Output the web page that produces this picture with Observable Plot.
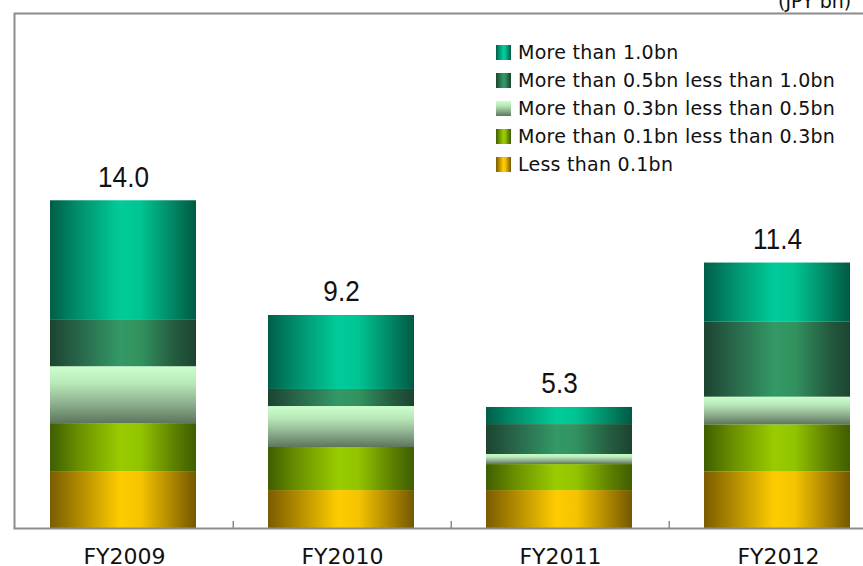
<!DOCTYPE html>
<html>
<head>
<meta charset="utf-8">
<script src="https://cdn.jsdelivr.net/npm/d3@7"></script>
<script src="https://cdn.jsdelivr.net/npm/@observablehq/plot@0.6"></script>
<style>
  html, body { margin: 0; padding: 0; background: #fff; overflow: hidden; }
  #wrap { position: relative; width: 863px; height: 566px; overflow: hidden; }
  #chart svg { max-width: none !important; }
  #unit { position: absolute; left: 778px; top: -8px; font: 19px "DejaVu Sans", sans-serif; line-height: 19px; color: #111; white-space: nowrap; }
  #legend { position: absolute; left: 496px; top: 38px; font: 19px "DejaVu Sans", sans-serif; color: #111; letter-spacing: 0.26px; }
  #legend .row { display: flex; align-items: center; height: 28px; white-space: nowrap; }
  #legend .sw { width: 15px; height: 15px; margin-right: 7px; flex: none; }
</style>
</head>
<body>
<div id="wrap">
  <div id="chart"></div>
  <div id="unit"></div>
  <div id="legend"></div>
</div>
<script>
// ---- data ----
const categories = ["FY2009", "FY2010", "FY2011", "FY2012"];
const seriesNames = [
  "Less than 0.1bn",
  "More than 0.1bn less than 0.3bn",
  "More than 0.3bn less than 0.5bn",
  "More than 0.5bn less than 1.0bn",
  "More than 1.0bn"
];
const lessThan01 = [2.43, 1.62, 1.62, 2.41];
const from01to03 = [2.05, 1.84, 1.11, 2.02];
const from03to05 = [2.43, 1.75, 0.43, 1.18];
const from05to10 = [2.01, 0.73, 1.28, 3.22];
const moreThan10 = [5.08, 3.16, 0.73, 2.51];
const totalLabels = ["14.0", "9.2", "5.3", "11.4"];
const unitLabel = "(JPY bn)";

// ---- styles (gradients) ----
const gradIds = ["gLt01", "g01to03", "g03to05", "g05to10", "gGt10"];
const gradDefs = [
  {id: "gLt01", dir: "h", stops: [[0, "#7a5c00"], [0.2, "#b08a00"], [0.48, "#ffcc00"], [0.62, "#f5c400"], [0.85, "#a88200"], [1, "#735800"]]},
  {id: "g01to03", dir: "h", stops: [[0, "#3f5e00"], [0.2, "#6a9000"], [0.48, "#99cc00"], [0.62, "#92c400"], [0.85, "#5e8000"], [1, "#3f5e00"]]},
  {id: "g03to05", dir: "v", stops: [[0, "#ccffcc"], [0.3, "#b8e8b8"], [0.65, "#8fb08f"], [1, "#5c765c"]]},
  {id: "g05to10", dir: "h", stops: [[0, "#1c4430"], [0.2, "#28664a"], [0.48, "#339966"], [0.62, "#32925f"], [0.85, "#245c40"], [1, "#1c4430"]]},
  {id: "gGt10", dir: "h", stops: [[0, "#005e48"], [0.2, "#00906d"], [0.48, "#00cc99"], [0.62, "#00c493"], [0.85, "#008462"], [1, "#005a44"]]}
];
const seriesArrays = [lessThan01, from01to03, from03to05, from05to10, moreThan10];

const rows = [];
seriesNames.forEach((s, i) => {
  categories.forEach((c, j) => rows.push({category: c, series: s, value: seriesArrays[i][j]}));
});
const totals = categories.map((c, j) => ({
  category: c,
  total: d3.sum(seriesArrays, a => a[j]),
  label: totalLabels[j]
}));

const W = 890, mL = 14, mR = 2;
const step = (W - mL - mR) / categories.length;
const grey = "#8c8c8c";

const plot = Plot.plot({
  width: W,
  height: 566,
  marginLeft: mL,
  marginRight: mR,
  marginTop: 13,
  marginBottom: 38,
  style: {fontFamily: "DejaVu Sans, sans-serif", fontSize: "22px", color: "#111", background: "#fff", maxWidth: "none"},
  x: {domain: categories, padding: 0, tickSize: 0, tickPadding: 20, label: null},
  y: {domain: [0, 22], axis: null},
  color: {type: "ordinal", domain: seriesNames, range: gradIds.map(id => `url(#${id})`)},
  marks: [
    Plot.barY(rows, Plot.stackY({order: seriesNames}, {
      x: "category", y: "value", fill: "series", insetLeft: 35, insetRight: 37
    })),
    Plot.frame({stroke: grey, strokeWidth: 2}),
    Plot.ruleX(categories.slice(1), {x: d => d, y1: 0, y2: 0.3, dx: -step / 2, stroke: grey, strokeWidth: 1.5}),
    Plot.text(totals, {
      x: "category", y: "total", text: "label", lineAnchor: "bottom", dy: -14, dx: -1,
      fontSize: 30, fontFamily: "Liberation Sans, Arial, sans-serif", fill: "#111"
    })
  ]
});

// gradient defs
const svg = d3.select(plot);
const defs = svg.insert("defs", ":first-child");
gradDefs.forEach(g => {
  const lg = defs.append("linearGradient").attr("id", g.id)
    .attr("x1", 0).attr("y1", 0)
    .attr("x2", g.dir === "h" ? 1 : 0).attr("y2", g.dir === "h" ? 0 : 1);
  g.stops.forEach(([o, c]) => lg.append("stop").attr("offset", o).attr("stop-color", c));
});

document.getElementById("chart").appendChild(plot);
document.getElementById("unit").textContent = unitLabel;

// narrow the value labels horizontally (reference uses a condensed face)
svg.selectAll('g[font-size="30"] text').each(function() {
  const len = this.getComputedTextLength();
  if (len > 0) {
    this.setAttribute("textLength", (len * 0.87).toFixed(1));
    this.setAttribute("lengthAdjust", "spacingAndGlyphs");
  }
});

// legend (top to bottom = reverse of stack order)
const legend = d3.select("#legend");
seriesNames.slice().reverse().forEach(name => {
  const g = gradDefs[seriesNames.indexOf(name)];
  const css = `linear-gradient(${g.dir === "h" ? "to right" : "to bottom"}, ${g.stops.map(([o, c]) => `${c} ${o * 100}%`).join(", ")})`;
  const row = legend.append("div").attr("class", "row");
  row.append("div").attr("class", "sw").style("background", css);
  row.append("span").text(name);
});
</script>
</body>
</html>
